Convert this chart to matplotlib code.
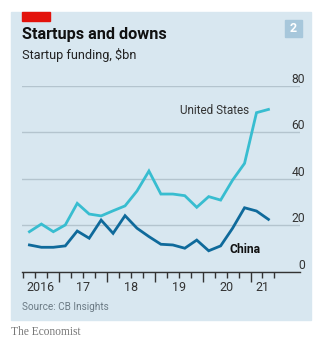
import matplotlib
matplotlib.use("Agg")
import matplotlib.pyplot as plt
from matplotlib.patches import Rectangle
from matplotlib.transforms import ScaledTranslation

# quarterly startup funding, $bn (mid-quarter positions, Q2 2016 - Q2 2021)
quarters = [2016.375 + 0.25 * i for i in range(21)]
us = [17.2, 20.5, 17.2, 20.1, 29.4, 24.8, 24.0, 26.2, 28.3, 34.7, 43.3,
      33.4, 33.4, 32.7, 27.7, 32.3, 30.8, 39.4, 46.6, 68.4, 69.8]
china = [11.5, 10.5, 10.5, 11.1, 17.5, 14.4, 22.2, 16.5, 24.1, 18.7, 15.1,
         11.8, 11.5, 10.1, 13.6, 9.0, 11.1, 18.7, 27.5, 26.1, 22.5]

yticks = [0, 20, 40, 60, 80]
year_ticks = [2017, 2018, 2019, 2020, 2021]
quarter_ticks = [2016.25 + 0.25 * i for i in range(22)]
year_label_pos = [2016.61, 2017.5, 2018.5, 2019.5, 2020.5, 2021.25]
year_labels = ["2016", "17", "18", "19", "20", "21"]

plt.rcParams['font.family'] = ['Roboto', 'DejaVu Sans']

W, H = 322, 348
fig = plt.figure(figsize=(W / 100, H / 100), dpi=100)
fig.patch.set_facecolor('white')

bg = '#d8e7f0'
fig.patches.append(Rectangle((11 / W, 1 - 320 / H), 300 / W, 308 / H,
                             transform=fig.transFigure, color=bg, zorder=-2))
fig.patches.append(Rectangle((22 / W, 1 - 21 / H), 28 / W, 9 / H,
                             transform=fig.transFigure, color='#e3120b', zorder=-1))
fig.patches.append(Rectangle((285 / W, 1 - 37 / H), 17 / W, 17 / H,
                             transform=fig.transFigure, color='#a7c7db', zorder=-1))
fig.text(293.5 / W, 1 - 28.5 / H, "2", color='white', fontsize=9, fontweight='bold',
         ha='center', va='center')

fig.text(22 / W, 1 - 39.5 / H, "Startups and downs", fontsize=11.7, fontweight='bold',
         color='#111111', va='baseline')
fig.text(22 / W, 1 - 59.5 / H, "Startup funding, $bn", fontsize=9.2, color='#222222',
         va='baseline')
fig.text(22 / W, 1 - 309.5 / H, "Source: CB Insights", fontsize=7.2, color='#6b7a84',
         va='baseline')
fig.text(11 / W, 1 - 335 / H, "The Economist", fontsize=8.3, color='#777777',
         va='baseline', family=['Liberation Serif', 'DejaVu Serif'])

ax = fig.add_axes([22.3 / W, 1 - 271.7 / H, (300 - 22.3) / W, (271.7 - 85.7) / H])
ax.patch.set_visible(False)
ax.set_zorder(2)

ax.plot(quarters, us, color='#38bdd0', lw=2.0, solid_joinstyle='miter', zorder=3)
ax.plot(quarters, china, color='#0f6a9b', lw=2.0, solid_joinstyle='miter', zorder=3)

ax.set_xlim(2016.226, 2022.035)
ax.set_ylim(0, 80)

for s in ['top', 'left', 'right']:
    ax.spines[s].set_visible(False)
ax.spines['bottom'].set_color('#333333')
ax.spines['bottom'].set_linewidth(1.0)

ax.set_yticks(yticks)
ax.yaxis.grid(True, color='#b4c4ce', lw=1.0)
ax.set_axisbelow(True)
ax.tick_params(axis='y', left=False, labelleft=False, right=False, labelright=True,
               pad=0, labelsize=8.7, labelcolor='#333333')
offset = ScaledTranslation(0, 3 / 100, fig.dpi_scale_trans)
for lab in ax.get_yticklabels():
    lab.set_horizontalalignment('right')
    lab.set_verticalalignment('baseline')
    lab.set_transform(lab.get_transform() + offset)

ax.set_xticks(year_ticks)
ax.set_xticks(quarter_ticks, minor=True)
ax.set_xticklabels([])
ax.tick_params(axis='x', which='major', length=7, width=1, color='#333333')
ax.tick_params(axis='x', which='minor', length=4, width=1, color='#333333')

sec = ax.secondary_xaxis('bottom')
sec.set_xticks(year_label_pos, year_labels)
sec.tick_params(length=0, pad=6.5, labelsize=9, labelcolor='#333333')
sec.spines['bottom'].set_visible(False)

ax.text(2020.97, 69.2, "United States", fontsize=8.5, color='#333333',
        ha='right', va='center')
ax.text(2020.55, 9.6, "China", fontsize=8.7, fontweight='bold', color='#111111',
        ha='left', va='center')

fig.savefig('out.png', dpi=100)
